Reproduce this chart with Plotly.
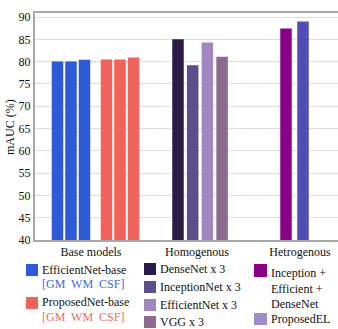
import plotly.graph_objects as go

# ---------------- data ----------------
groups = ["Base models", "Homogenous", "Hetrogenous"]
y_ticks = [40, 45, 50, 55, 60, 65, 70, 75, 80, 85, 90]

base_series = ["EfficientNet-base", "ProposedNet-base"]
base_sub = ["GM", "WM", "CSF"]
efficientnet_base = [80.0, 80.0, 80.4]
proposednet_base = [80.5, 80.5, 80.9]

homog_names = ["DenseNet x 3", "InceptionNet x 3", "EfficientNet x 3", "VGG x 3"]
homog_values = [85.0, 79.2, 84.3, 81.1]

hetero_names = ["Inception +<br>Efficient +<br>DenseNet", "ProposedEL"]
hetero_values = [87.4, 89.0]

# ---------------- styling ----------------
W, H = 338, 329
ML, MR, MT, MB = 35, 0, 13, 89
PW, PH = W - ML - MR, H - MT - MB
FONT = "Liberation Serif"

c_blue = "#2D5AD6"
c_red = "#F1625A"
homog_colors = ["#2B1B45", "#5A4F8A", "#A187C1", "#8D6A92"]
hetero_colors = ["#8B0089", "#514DB4"]
hetero_legend_colors = ["#8B0089", "#A08BC8"]

BW = 11.5
fig = go.Figure()

# base models section
base_start, base_step, base_setgap = 22.5, 13.5, 49
for s, (vals, col) in enumerate([(efficientnet_base, c_blue), (proposednet_base, c_red)]):
    xs = [base_start + s * base_setgap + i * base_step for i in range(len(vals))]
    fig.add_trace(go.Bar(x=xs, y=vals, width=BW, marker=dict(color=col, line=dict(width=0)),
                         name=base_series[s], text=base_sub, hoverinfo="y+name", textposition="none"))

# homogenous section
h_start, h_step = 143, 14.7
for i, (v, col) in enumerate(zip(homog_values, homog_colors)):
    fig.add_trace(go.Bar(x=[h_start + i * h_step], y=[v], width=BW,
                         marker=dict(color=col, line=dict(width=0)), name=homog_names[i]))

# heterogenous section
e_start, e_step = 251, 17
for i, (v, col) in enumerate(zip(hetero_values, hetero_colors)):
    fig.add_trace(go.Bar(x=[e_start + i * e_step], y=[v], width=BW,
                         marker=dict(color=col, line=dict(width=0)), name=hetero_names[i]))

group_ticks = [56, 162, 265]

fig.update_layout(
    width=W, height=H,
    margin=dict(l=ML, r=MR, t=MT, b=MB),
    plot_bgcolor="white", paper_bgcolor="white",
    showlegend=False,
    font=dict(family=FONT, size=12, color="#111"),
    xaxis=dict(range=[0, PW], tickvals=group_ticks, ticktext=groups, showgrid=False,
               zeroline=False, showline=True, linecolor="#a8a8a8", linewidth=2, mirror=True,
               ticks="", tickfont=dict(size=12, family=FONT)),
    yaxis=dict(range=[40, 90.9], tickvals=y_ticks, showgrid=True, gridcolor="#dedede",
               gridwidth=1, zeroline=False, showline=True, linecolor="#a8a8a8", linewidth=2,
               ticks="", tickfont=dict(size=12, family=FONT)),
)

# ---------------- manual legend & title ----------------
def px(x):
    return (x - ML) / PW

def py(y):
    return (H - MB - y) / PH

fig.add_annotation(xref="paper", yref="paper", x=px(10), y=py(127), text="mAUC (%)",
                   textangle=-90, showarrow=False, xanchor="center", yanchor="middle",
                   font=dict(family=FONT, size=12, color="#111"))

def swatch(x0, y0, x1, y1, col):
    fig.add_shape(type="rect", xref="paper", yref="paper", x0=px(x0), x1=px(x1),
                  y0=py(y1), y1=py(y0), fillcolor=col, line=dict(width=0), layer="above")

def label(x, y, txt, col="#111", size=12):
    fig.add_annotation(xref="paper", yref="paper", x=px(x), y=py(y), text=txt,
                       showarrow=False, xanchor="left", yanchor="middle", align="left",
                       font=dict(family=FONT, size=size, color=col))

# column 1
swatch(26, 264, 38, 276, c_blue)
label(40, 270, base_series[0])
label(40, 284, "[" + "  ".join(base_sub) + "]", "#3C68E6")
swatch(26, 297, 38, 309, c_red)
label(40, 302, base_series[1])
label(40, 317, "[" + "  ".join(base_sub) + "]", "#F26B63")

# column 2
hy = [269, 287, 305, 322]
for name, col, yc in zip(homog_names, homog_colors, hy):
    swatch(144, yc - 6, 156, yc + 6, col)
    label(158, yc, name)

# column 3
swatch(254, 264, 267, 277, hetero_legend_colors[0])
fig.add_annotation(xref="paper", yref="paper", x=px(269), y=py(264), text=hetero_names[0],
                   showarrow=False, xanchor="left", yanchor="top", align="left",
                   font=dict(family=FONT, size=12, color="#111"))
swatch(254, 313, 267, 325, hetero_legend_colors[1])
label(269, 319, hetero_names[1])

fig.write_html("out.html", config={"displayModeBar": False},
               post_script="document.body.style.margin='0';")
